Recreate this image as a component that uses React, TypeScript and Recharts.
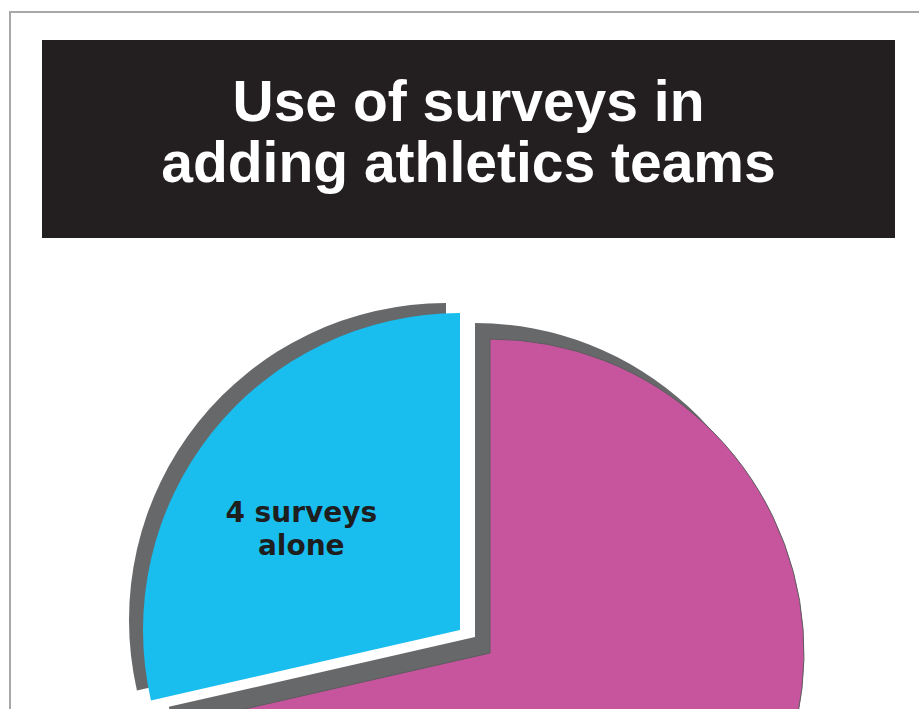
import React from 'react'
import { PieChart, Pie, Cell } from 'recharts'

// slice data (the second slice's label lies below the visible crop)
const categories = ['4 surveys alone', 'Other']
const values = [4, 10]
const labelLines = [['4 surveys', 'alone'], []]

const titleLines = ['Use of surveys in', 'adding athletics teams']

const sliceColors = ['#19bdee', '#c7559e']
const shadowColor = '#67686a'

const data = categories.map((name, i) => ({ name, value: values[i], lines: labelLines[i] }))

const RADIAN = Math.PI / 180

const renderLabel = (props: any) => {
  const { cx, cy, midAngle, outerRadius, index } = props
  const lines: string[] = data[index].lines
  if (!lines.length) return null
  const r = outerRadius * 0.6
  const x = cx + r * Math.cos(-midAngle * RADIAN) - 10
  const y = cy + r * Math.sin(-midAngle * RADIAN)
  return (
    <text x={x} y={y} textAnchor="middle" fill="#1e1e1e" fontFamily="'DejaVu Sans', sans-serif" fontWeight={700} fontSize={28}>
      {lines.map((l, i) => (
        <tspan key={i} x={x} y={y + 11 + i * 33}>{l}</tspan>
      ))}
    </text>
  )
}

export default function App() {
  const main = { x: 490, y: 653, r: 314 }
  const blue = { x: 460, y: 630, r: 317 }
  const mainShadow = { x: -15, y: -16 }
  const blueShadow = { x: -14, y: -10 }

  return (
    <div style={{ position: 'absolute', left: 0, top: 0, width: 919, height: 709, overflow: 'hidden', background: '#fff' }}>
      <div style={{ position: 'absolute', left: 9, top: 11, right: -10, bottom: -10, borderLeft: '2px solid #a8a8a8', borderTop: '2px solid #a8a8a8' }} />
      <div style={{ position: 'absolute', left: 42, top: 40, width: 853, height: 198, background: '#231f20' }}>
        <div style={{ position: 'absolute', left: 0, right: 0, top: 31, textAlign: 'center', color: '#fff', fontFamily: "'Liberation Sans', Arial, sans-serif", fontWeight: 700, fontSize: 57, lineHeight: '61px' }}>
          {titleLines.map((t, i) => <div key={i}>{t}</div>)}
        </div>
      </div>
      <div style={{ position: 'absolute', left: 0, top: 0 }}>
        <PieChart width={919} height={709} margin={{ top: 0, right: 0, bottom: 0, left: 0 }}>
          {/* shadow of the large slice */}
          <Pie data={data} dataKey="value" cx={main.x + mainShadow.x} cy={main.y + mainShadow.y} outerRadius={main.r} startAngle={90} endAngle={450} isAnimationActive={false}>
            {data.map((d, i) => <Cell key={i} fill={i === 1 ? shadowColor : 'none'} stroke="none" />)}
          </Pie>
          <Pie data={data} dataKey="value" cx={main.x} cy={main.y} outerRadius={main.r} startAngle={90} endAngle={450} isAnimationActive={false}>
            {data.map((d, i) => <Cell key={i} fill={i === 1 ? sliceColors[1] : 'none'} stroke={i === 1 ? '#5c5c5e' : 'none'} strokeWidth={1} />)}
          </Pie>
          {/* exploded slice and its shadow */}
          <Pie data={data} dataKey="value" cx={blue.x + blueShadow.x} cy={blue.y + blueShadow.y} outerRadius={blue.r} startAngle={90} endAngle={450} isAnimationActive={false}>
            {data.map((d, i) => <Cell key={i} fill={i === 0 ? shadowColor : 'none'} stroke="none" />)}
          </Pie>
          <Pie data={data} dataKey="value" cx={blue.x} cy={blue.y} outerRadius={blue.r} startAngle={90} endAngle={450} isAnimationActive={false} label={renderLabel} labelLine={false}>
            {data.map((d, i) => <Cell key={i} fill={i === 0 ? sliceColors[0] : 'none'} stroke="none" />)}
          </Pie>
        </PieChart>
      </div>
    </div>
  )
}
